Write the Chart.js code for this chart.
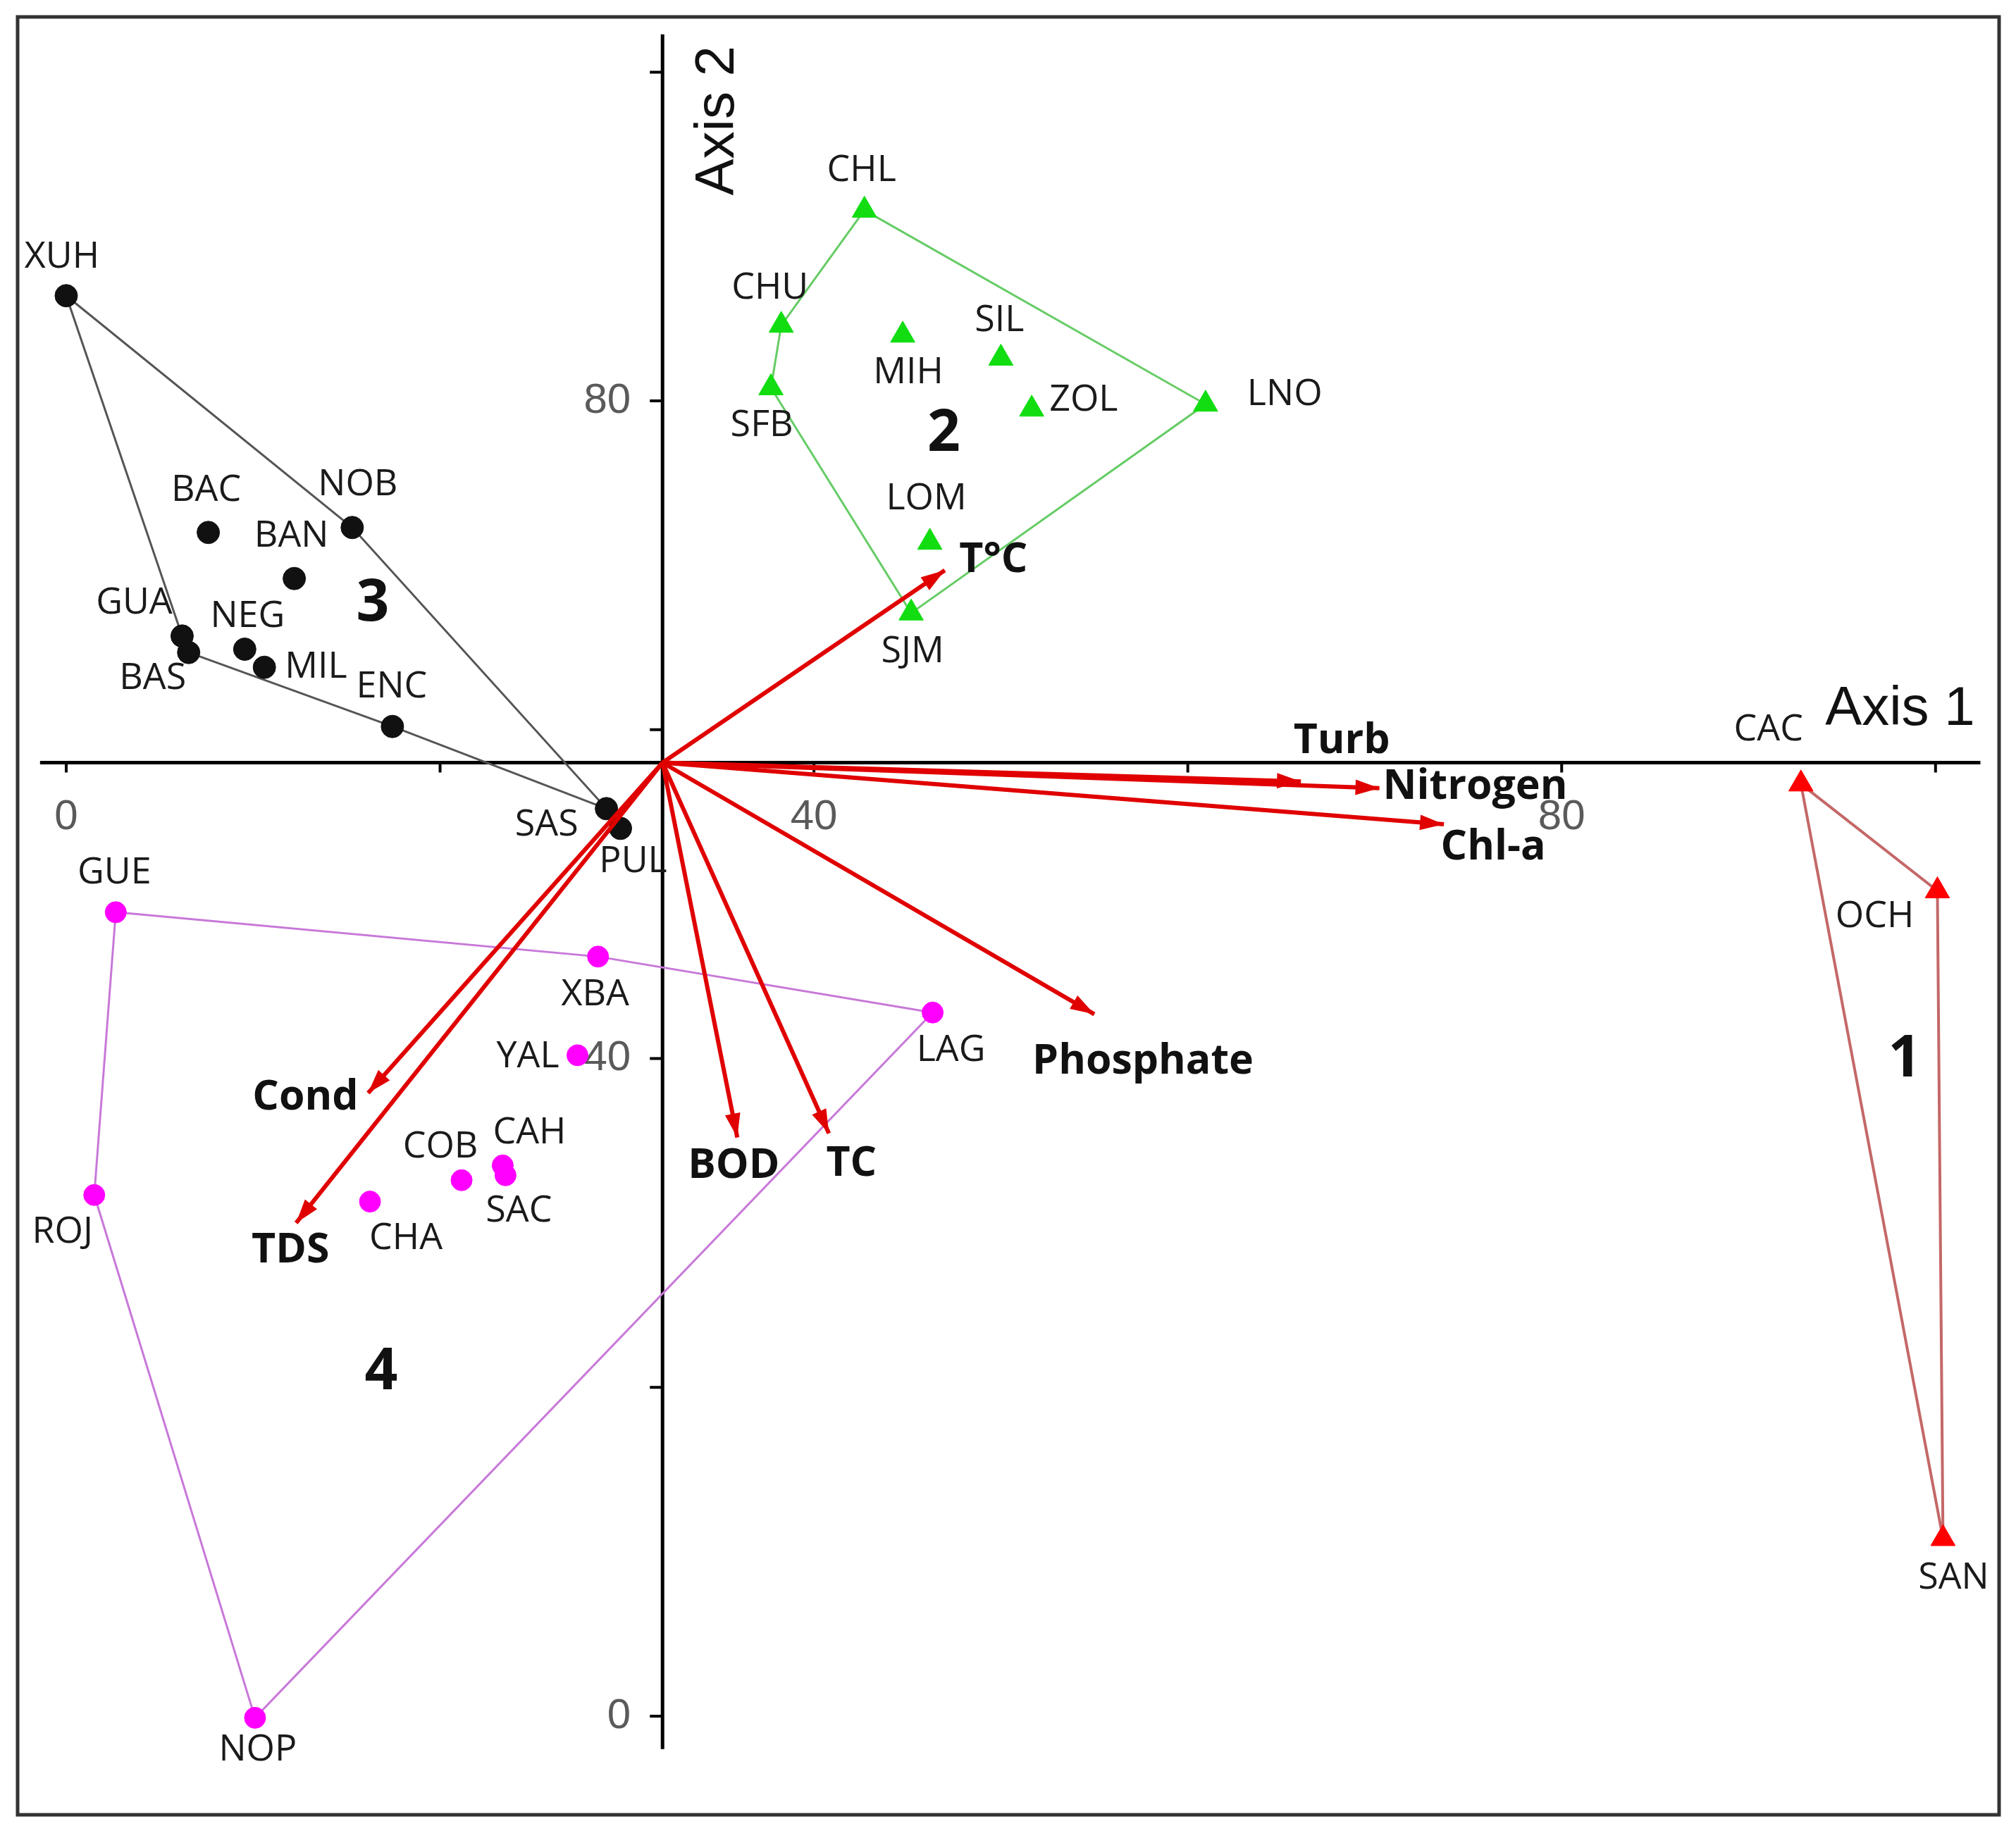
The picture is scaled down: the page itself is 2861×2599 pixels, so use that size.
<!DOCTYPE html>
<html>
<head>
<meta charset="utf-8">
<title>Biplot</title>
<script src="https://cdn.jsdelivr.net/npm/chart.js@4.4.1/dist/chart.umd.min.js"></script>
<style>
  html, body { margin: 0; padding: 0; background: #fff; }
  #wrap { width: 2861px; height: 2599px; position: relative; }
</style>
</head>
<body>
<div id="wrap"><canvas id="biplot"></canvas></div>
<script>
// ---- data ----
// where the two axes cross (arrows start here)
const ORIGIN = [31.9, 58.0];

// group 1 (red triangles)
const g1Names = ['CAC', 'OCH', 'SAN'];
const g1X = [92.8, 100.1, 100.4];
const g1Y = [56.7, 50.2, 10.8];
const g1Hull = ['CAC', 'OCH', 'SAN', 'CAC'];

// group 2 (green triangles)
const g2Names = ['CHL', 'CHU', 'SFB', 'MIH', 'SIL', 'ZOL', 'LNO', 'LOM', 'SJM'];
const g2X = [42.7, 38.25, 37.7, 44.75, 50.0, 51.65, 60.95, 46.2, 45.2];
const g2Y = [91.6, 84.6, 80.8, 84.0, 82.6, 79.5, 79.8, 71.4, 67.1];
const g2Hull = ['CHL', 'LNO', 'SJM', 'SFB', 'CHU', 'CHL'];

// group 3 (black dots)
const g3Names = ['XUH', 'BAC', 'NOB', 'BAN', 'GUA', 'BAS', 'NEG', 'MIL', 'ENC', 'SAS', 'PUL'];
const g3X = [0.0, 7.6, 15.3, 12.2, 6.2, 6.55, 9.55, 10.6, 17.45, 28.9, 29.65];
const g3Y = [86.4, 72.0, 72.3, 69.2, 65.7, 64.7, 64.9, 63.8, 60.2, 55.2, 54.0];
const g3Hull = ['XUH', 'NOB', 'SAS', 'ENC', 'BAS', 'GUA', 'XUH'];

// group 4 (magenta dots)
const g4Names = ['GUE', 'XBA', 'YAL', 'LAG', 'COB', 'CAH', 'SAC', 'CHA', 'ROJ', 'NOP'];
const g4X = [2.65, 28.45, 27.35, 46.35, 21.15, 23.35, 23.5, 16.25, 1.5, 10.1];
const g4Y = [48.9, 46.2, 40.2, 42.8, 32.6, 33.5, 32.9, 31.3, 31.7, -0.1];
const g4Hull = ['GUE', 'XBA', 'LAG', 'NOP', 'ROJ', 'GUE'];

// environmental variables (arrow tips)
const varNames = ['T°C', 'Turb', 'Nitrogen', 'Chl-a', 'Phosphate', 'TC', 'BOD', 'Cond', 'TDS'];
const varX = [47.0, 66.05, 70.25, 73.7, 55.0, 40.8, 35.9, 16.15, 12.3];
const varY = [69.7, 56.85, 56.45, 54.25, 42.7, 35.45, 35.2, 37.9, 30.0];

// group numbers written inside the hulls
const groupNums = ['1', '2', '3', '4'];
const groupNumX = [98.35, 46.95, 16.4, 16.85];
const groupNumY = [39.9, 77.95, 67.65, 20.9];

// ticks
const xTicks = [0, 20, 40, 60, 80, 100];
const xTickLabels = ['0', '', '40', '', '80', ''];
const yTicks = [0, 20, 40, 60, 80, 100];
const yTickLabels = ['0', '', '40', '', '80', ''];

// ---- layout / style (pixels) ----
const axis1Range = [-1.4, 102.4];
const axis2Range = [-2.0, 102.3];
const axis1TitlePos = [98.1, 61.2];
const axis2TitlePos = [34.9, 97.05];

// label offsets from the mark: [dx, dy, align]
const g1Offs = [[-46, -77], [-89, 37], [15, 56]];
const g2Offs = [[-4, -56], [-16, -53], [-13, 54], [8, 53], [-2, -53], [25, -13, 'left'], [59, -14, 'left'], [-5, -62], [2, 55]];
const g3Offs = [[-6, -55], [-3, -60], [8, -61], [-4, -60], [-68, -47], [-51, 37], [4, -46], [29, 0, 'left'], [-1, -56], [-40, 23, 'right'], [18, 47]];
const g4Offs = [[-2, -56], [-4, 54], [-26, 2, 'right'], [26, 54], [-30, -47], [38, -46], [19, 51], [51, 53], [-45, 53], [4, 46]];
const varOffs = [[69, -14], [58, -57], [5, -1, 'left'], [70, 33], [69, 68], [32, 43], [-5, 41], [-89, 7], [-8, 39]];

const LABEL_FONT = '52px "Open Sans", "Noto Sans", sans-serif';
const BOLD_FONT = 'bold 59px "Open Sans", "Noto Sans", sans-serif';
const ARROW_RED = '#e00000';

function points(xs, ys) {
    return xs.map((x, i) => ({ x: x, y: ys[i] }));
}
function hullPoints(names, xs, ys, order) {
    return order.map(n => {
        const i = names.indexOf(n);
        return { x: xs[i], y: ys[i] };
    });
}

const groups = [
    { names: g1Names, xs: g1X, ys: g1Y, hull: g1Hull, offs: g1Offs, style: 'triangle', fill: '#ff0000', line: '#c46868', lw: 4, r: 20 },
    { names: g2Names, xs: g2X, ys: g2Y, hull: g2Hull, offs: g2Offs, style: 'triangle', fill: '#11dd11', line: '#66cc66', lw: 3, r: 20 },
    { names: g3Names, xs: g3X, ys: g3Y, hull: g3Hull, offs: g3Offs, style: 'circle', fill: '#111111', line: '#555555', lw: 3, r: 16 },
    { names: g4Names, xs: g4X, ys: g4Y, hull: g4Hull, offs: g4Offs, style: 'circle', fill: '#ff00ff', line: '#c878d8', lw: 3, r: 15 }
];

const datasets = [];
groups.forEach(g => {
    datasets.push({
        data: hullPoints(g.names, g.xs, g.ys, g.hull),
        showLine: true,
        borderColor: g.line,
        borderWidth: g.lw,
        pointRadius: 0,
        fill: false,
        order: 3
    });
    datasets.push({
        data: points(g.xs, g.ys),
        showLine: false,
        pointStyle: g.style,
        pointRadius: g.r,
        backgroundColor: g.fill,
        borderColor: g.fill,
        borderWidth: 1,
        order: 2,
        stationNames: g.names,
        labelOffsets: g.offs
    });
});
varNames.forEach((name, i) => {
    datasets.push({
        data: [{ x: ORIGIN[0], y: ORIGIN[1] }, { x: varX[i], y: varY[i] }],
        showLine: true,
        borderColor: ARROW_RED,
        borderWidth: 6,
        pointRadius: 0,
        order: 1,
        arrowName: name,
        arrowOffset: varOffs[i]
    });
});

function drawText(ctx, text, px, py, off) {
    ctx.textAlign = off[2] || 'center';
    ctx.fillText(text, px + off[0], py + off[1]);
}

const decorPlugin = {
    id: 'biplotDecor',
    beforeDatasetsDraw(chart) {
        const { ctx, chartArea: a, scales: { x, y } } = chart;
        ctx.save();
        // outer frame
        ctx.strokeStyle = '#333';
        ctx.lineWidth = 5;
        ctx.strokeRect(a.left, a.top, a.right - a.left, a.bottom - a.top);

        // axis lines through the origin
        const x0 = x.getPixelForValue(ORIGIN[0]);
        const y0 = y.getPixelForValue(ORIGIN[1]);
        ctx.strokeStyle = '#000';
        ctx.lineWidth = 5;
        ctx.beginPath();
        ctx.moveTo(x.getPixelForValue(axis1Range[0]), y0);
        ctx.lineTo(x.getPixelForValue(axis1Range[1]), y0);
        ctx.moveTo(x0, y.getPixelForValue(axis2Range[0]));
        ctx.lineTo(x0, y.getPixelForValue(axis2Range[1]));
        ctx.stroke();

        // tick marks
        ctx.lineWidth = 4;
        ctx.beginPath();
        xTicks.forEach(v => {
            const px = x.getPixelForValue(v);
            ctx.moveTo(px, y0);
            ctx.lineTo(px, y0 + 14);
        });
        yTicks.forEach(v => {
            const py = y.getPixelForValue(v);
            ctx.moveTo(x0, py);
            ctx.lineTo(x0 - 18, py);
        });
        ctx.stroke();

        // tick labels
        ctx.fillStyle = '#5a5a5a';
        ctx.font = '60px "Liberation Sans", Arial, sans-serif';
        ctx.textBaseline = 'middle';
        ctx.textAlign = 'center';
        xTicks.forEach((v, i) => ctx.fillText(xTickLabels[i], x.getPixelForValue(v), y0 + 78));
        ctx.textAlign = 'right';
        yTicks.forEach((v, i) => ctx.fillText(yTickLabels[i], x0 - 45, y.getPixelForValue(v)));

        // axis titles
        ctx.fillStyle = '#111';
        ctx.font = '78px "Liberation Sans", Arial, sans-serif';
        ctx.textAlign = 'center';
        ctx.fillText('Axis 1', x.getPixelForValue(axis1TitlePos[0]), y.getPixelForValue(axis1TitlePos[1]));
        ctx.save();
        ctx.translate(x.getPixelForValue(axis2TitlePos[0]), y.getPixelForValue(axis2TitlePos[1]));
        ctx.rotate(-Math.PI / 2);
        ctx.fillText('Axis 2', 0, 0);
        ctx.restore();
        ctx.restore();
    },
    afterDatasetsDraw(chart) {
        const { ctx, scales: { x, y } } = chart;
        ctx.save();
        ctx.textBaseline = 'middle';
        chart.data.datasets.forEach((ds, di) => {
            const meta = chart.getDatasetMeta(di);
            if (ds.arrowName) {
                // arrow head at the tip
                const p0 = meta.data[0], p1 = meta.data[1];
                const ang = Math.atan2(p1.y - p0.y, p1.x - p0.x);
                const len = 34, hw = 11;
                ctx.fillStyle = ARROW_RED;
                ctx.beginPath();
                ctx.moveTo(p1.x, p1.y);
                ctx.lineTo(p1.x - len * Math.cos(ang) + hw * Math.sin(ang), p1.y - len * Math.sin(ang) - hw * Math.cos(ang));
                ctx.lineTo(p1.x - len * Math.cos(ang) - hw * Math.sin(ang), p1.y - len * Math.sin(ang) + hw * Math.cos(ang));
                ctx.closePath();
                ctx.fill();
                ctx.fillStyle = '#111';
                ctx.font = BOLD_FONT;
                drawText(ctx, ds.arrowName, p1.x, p1.y, ds.arrowOffset);
            } else if (ds.stationNames) {
                ctx.fillStyle = '#1a1a1a';
                ctx.font = LABEL_FONT;
                meta.data.forEach((pt, j) => drawText(ctx, ds.stationNames[j], pt.x, pt.y, ds.labelOffsets[j]));
            }
        });
        // group numbers
        ctx.fillStyle = '#111';
        ctx.font = 'bold 82px "Open Sans", "Noto Sans", sans-serif';
        ctx.textAlign = 'center';
        groupNums.forEach((t, i) => ctx.fillText(t, x.getPixelForValue(groupNumX[i]), y.getPixelForValue(groupNumY[i])));
        ctx.restore();
    }
};

new Chart(document.getElementById('biplot'), {
    type: 'scatter',
    data: { datasets: datasets },
    options: {
        responsive: true,
        maintainAspectRatio: false,
        devicePixelRatio: 1,
        animation: false,
        events: [],
        layout: { padding: { left: 25, top: 24, right: 24, bottom: 23 } },
        scales: {
            x: { type: 'linear', display: false, min: -2.6, max: 103.4 },
            y: { type: 'linear', display: false, min: -6.0, max: 103.36 }
        },
        plugins: {
            legend: { display: false },
            tooltip: { enabled: false }
        }
    },
    plugins: [decorPlugin]
});
</script>
</body>
</html>
